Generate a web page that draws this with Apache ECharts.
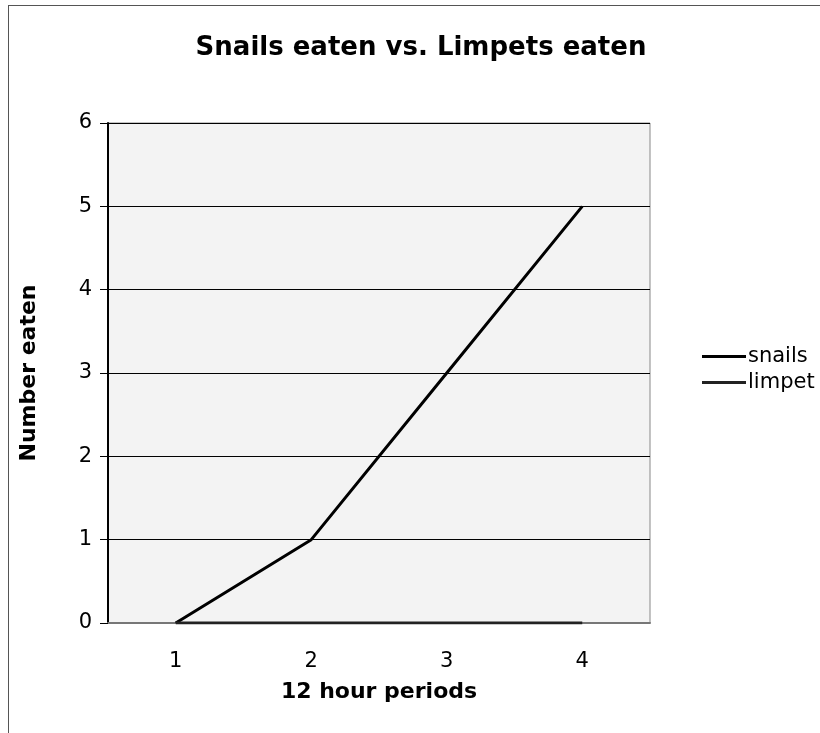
<!DOCTYPE html>
<html lang="en">
<head>
    <meta charset="UTF-8">
    <title>Snails eaten vs. Limpets eaten</title>
    <script src="https://cdn.jsdelivr.net/npm/echarts@6.0.0/dist/echarts.min.js"></script>
    <style>
        body { margin: 0; background: #fff; }
        #frame { position: absolute; left: 8px; top: 5px; width: 820px; height: 740px; border-left: 1px solid #555; border-top: 1px solid #555; }
    </style>
</head>
<body>
<div id="frame"></div>
<div id="chart" style="position:absolute;left:0;top:0;width: 820px;height:733px;"></div>
</body>
<script>
    var periods = ['1', '2', '3', '4'];
    var snails = [0, 1, 3, 5];
    var limpet = [0, 0, 0, 0];

    echarts.init(document.getElementById('chart')).setOption({
        animation: false,
        textStyle: { fontFamily: 'DejaVu Sans' },
        title: {
            text: 'Snails eaten vs. Limpets eaten',
            left: 416,
            textAlign: 'center',
            top: 30,
            textStyle: { fontSize: 26, fontWeight: 'bold', color: '#000' }
        },
        legend: {
            orient: 'vertical',
            left: 697,
            top: 341,
            itemWidth: 44,
            itemHeight: 3,
            itemGap: 5,
            icon: 'rect',
            textStyle: { fontSize: 21, color: '#000', padding: [0, 0, 0, -3] },
            data: ['snails', 'limpet']
        },
        grid: {
            left: 108,
            top: 123,
            width: 542,
            height: 500,
            show: true,
            backgroundColor: '#f3f3f3',
            borderColor: '#888',
            borderWidth: 1
        },
        xAxis: {
            type: 'category',
            data: periods,
            boundaryGap: true,
            name: '12 hour periods',
            nameLocation: 'middle',
            nameGap: 58,
            nameTextStyle: { fontSize: 22, fontWeight: 'bold', color: '#000' },
            axisLine: { lineStyle: { color: '#777', width: 2 } },
            axisTick: { length: 8, lineStyle: { color: '#777' } },
            axisLabel: { fontSize: 21, color: '#000', margin: 28 }
        },
        yAxis: {
            type: 'value',
            min: 0,
            max: 6,
            interval: 1,
            name: 'Number eaten',
            nameLocation: 'middle',
            nameGap: 68,
            nameTextStyle: { fontSize: 22, fontWeight: 'bold', color: '#000' },
            axisLine: { show: true, lineStyle: { color: '#000', width: 2 } },
            axisTick: { show: true, length: 8, lineStyle: { color: '#000' } },
            axisLabel: { fontSize: 21, color: '#000', margin: 16 },
            splitLine: { lineStyle: { color: '#000', width: 1 } }
        },
        series: [
            {
                name: 'snails',
                type: 'line',
                data: snails,
                symbol: 'none',
                z: 3,
                lineStyle: { color: '#000', width: 3 },
                itemStyle: { color: '#000' }
            },
            {
                name: 'limpet',
                type: 'line',
                data: limpet,
                symbol: 'none',
                z: 4,
                lineStyle: { color: '#222', width: 3 },
                itemStyle: { color: '#222' }
            }
        ]
    });
</script>
</html>
